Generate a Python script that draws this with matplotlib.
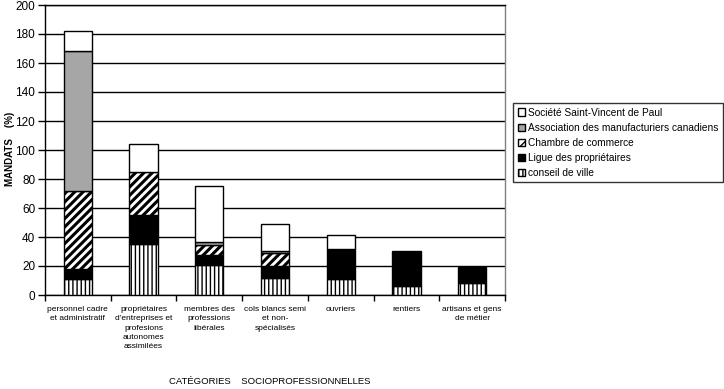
import matplotlib
matplotlib.use("Agg")
import matplotlib.pyplot as plt
import numpy as np

categories = ["personnel cadre\net administratif",
              "propriétaires\nd'entreprises et\nprofesions\nautonomes\nassimilées",
              "membres des\nprofessions\nlibérales",
              "cols blancs semi\net non-\nspécialisés",
              "ouvriers",
              "rentiers",
              "artisans et gens\nde métier"]

conseil = [11, 35, 21, 11.5, 11, 6, 8]
ligue = [7, 20, 6.5, 8.5, 21, 24.5, 11]
chambre = [54, 30, 7, 9, 0, 0, 0]
association = [96, 0, 2, 1.5, 0, 0, 0]
societe = [14, 19, 38.5, 18.5, 9.5, 0, 0]

series_names = ["conseil de ville", "Ligue des propriétaires", "Chambre de commerce",
                "Association des manufacturiers canadiens", "Société Saint-Vincent de Paul"]
yticks = list(range(0, 201, 20))

plt.rcParams['font.family'] = ['Liberation Sans', 'DejaVu Sans']

fig = plt.figure(figsize=(7.24, 3.89), dpi=100)
ax = fig.add_axes([45/724, 1-295/389, (505-45)/724, (295-5)/389])

x = np.arange(len(categories))
w = 0.43
styles = [
    dict(facecolor="white", hatch="||||", hlw=1.0),
    dict(facecolor="black", hatch=None, hlw=1.0),
    dict(facecolor="white", hatch="////", hlw=2.2),
    dict(facecolor="#a6a6a6", hatch=None, hlw=1.0),
    dict(facecolor="white", hatch=None, hlw=1.0),
]
data = [conseil, ligue, chambre, association, societe]
bottom = np.zeros(len(categories))
handles = []
for vals, st, name in zip(data, styles, series_names):
    vals = np.array(vals, dtype=float)
    with plt.rc_context({'hatch.linewidth': st['hlw'], 'hatch.color': 'black'}):
        bars = ax.bar(x, vals, w, bottom=bottom, facecolor=st['facecolor'],
                      edgecolor="black", linewidth=1.0, hatch=st['hatch'],
                      label=name, zorder=3)
    for b, v in zip(bars, vals):
        if v <= 0:
            b.set_visible(False)
    handles.append(bars)
    bottom += vals

ax.set_xlim(-0.5, len(categories) - 0.5)
ax.set_ylim(0, 200)
ax.set_yticks(yticks)
ax.set_yticklabels([str(t) for t in yticks], fontsize=8.5)
ax.yaxis.grid(True, color="black", linewidth=1.0, zorder=0)
ax.set_axisbelow(True)
ax.tick_params(axis='y', direction='out', length=5, width=1, pad=2)

ax.set_xticks(x)
ax.set_xticklabels(categories, fontsize=6.0, linespacing=1.45, va='top')
ax.tick_params(axis='x', length=0, pad=8)
ax.set_xticks(np.arange(-0.5, len(categories), 1), minor=True)
ax.tick_params(axis='x', which='minor', direction='out', length=4, width=1)

for s in ['left', 'bottom', 'top']:
    ax.spines[s].set_color('black')
    ax.spines[s].set_linewidth(1.0)
ax.spines['right'].set_color('#808080')
ax.spines['right'].set_linewidth(1.0)

fig.text(10/724, 1-149/389, "MANDATS    (%)", rotation=90, ha='center', va='center',
         fontsize=7.0, fontweight='bold')
fig.text(270/724, 1-381/389, "CATÉGORIES    SOCIOPROFESSIONNELLES", ha='center', va='center',
         fontsize=6.8)

leg = fig.legend(handles[::-1], series_names[::-1], loc='upper left',
                 bbox_to_anchor=(513/724, 1-103/389), fontsize=7.3,
                 handlelength=0.7, handleheight=0.7, handletextpad=0.3,
                 labelspacing=0.5, borderpad=0.45, borderaxespad=0,
                 frameon=True, fancybox=False)
leg.get_frame().set_edgecolor('black')
leg.get_frame().set_linewidth(1.0)

fig.savefig("out.png", dpi=100)
